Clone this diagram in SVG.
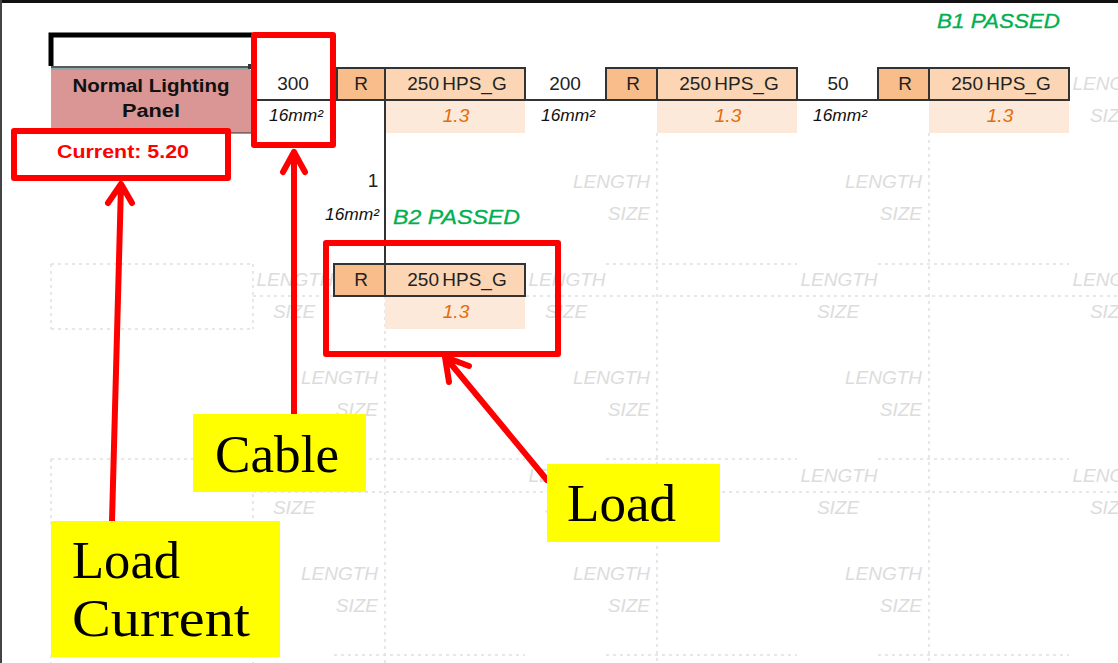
<svg xmlns="http://www.w3.org/2000/svg" width="1118" height="663" viewBox="0 0 1118 663">
<style>
text{font-family:"Liberation Sans",Arial,sans-serif}
.d{stroke:#e0e0e0;stroke-width:1.5;stroke-dasharray:3 4;fill:none}
.w{stroke:#333;stroke-width:2;fill:none}
.c{stroke:#333;stroke-width:2}
.r{fill:#f8bd8a}
.h{fill:#fcd5b4}
.p{fill:#fde9d9}
.t{font-size:19px;fill:#222;text-anchor:middle;word-spacing:-2px}
.s{font-size:16px;font-style:italic;fill:#111;text-anchor:middle}
.o{font-size:19px;font-style:italic;fill:#e36c0a;text-anchor:middle}
.g{font-size:20px;font-style:italic;fill:#00b050;stroke:#00b050;stroke-width:.3}
.l{font-size:19px;font-style:italic;fill:#dcdcdc;text-anchor:end}
.lc{font-size:19px;font-style:italic;fill:#dcdcdc;text-anchor:middle}
.m{font-size:18px;font-weight:bold;fill:#111;text-anchor:middle}
.y{fill:#ffff00}
.f{font-family:"Liberation Serif","Times New Roman",serif;font-size:52px;fill:#000}
.b{fill:none;stroke:#ff0000;stroke-width:6;stroke-linejoin:round}
.a{fill:none;stroke:#ff0000;stroke-width:6;stroke-linecap:round;stroke-linejoin:round}
</style>
<rect width="1118" height="663" fill="#fff"/>
<rect x="0" y="0" width="1118" height="3" fill="#111"/>
<rect x="0" y="0" width="2" height="663" fill="#444"/>

<g id="grid">
<path class="d" d="M51 264H253M334 264H525M606 264H797M878 264H1069M253 296H1118M51 329H253M51 459H253M334 459H525M606 459H797M878 459H1069M253 492H1118M51 524H253M51 655H253M334 655H525M606 655H797M878 655H1069"/>
<path class="d" d="M51 264V329M253 264V329M51 459V524M253 459V524M51 655V663M253 655V663M385 296V663M657 133V663M929 133V663"/>
<text class="l" x="650" y="188">LENGTH</text><text class="l" x="922" y="188">LENGTH</text>
<text class="l" x="650" y="220">SIZE</text><text class="l" x="922" y="220">SIZE</text>
<text class="lc" x="295" y="286">LENGTH</text><text class="lc" x="567" y="286">LENGTH</text><text class="lc" x="839" y="286">LENGTH</text><text class="lc" x="1111" y="286">LENGTH</text>
<text class="lc" x="294" y="318">SIZE</text><text class="lc" x="566" y="318">SIZE</text><text class="lc" x="838" y="318">SIZE</text><text class="lc" x="1111" y="318">SIZE</text>
<text class="l" x="378" y="384">LENGTH</text><text class="l" x="650" y="384">LENGTH</text><text class="l" x="922" y="384">LENGTH</text>
<text class="l" x="378" y="416">SIZE</text><text class="l" x="650" y="416">SIZE</text><text class="l" x="922" y="416">SIZE</text>
<text class="lc" x="295" y="482">LENGTH</text><text class="lc" x="567" y="482">LENGTH</text><text class="lc" x="839" y="482">LENGTH</text><text class="lc" x="1111" y="482">LENGTH</text>
<text class="lc" x="294" y="514">SIZE</text><text class="lc" x="566" y="514">SIZE</text><text class="lc" x="838" y="514">SIZE</text><text class="lc" x="1111" y="514">SIZE</text>
<text class="l" x="378" y="580">LENGTH</text><text class="l" x="650" y="580">LENGTH</text><text class="l" x="922" y="580">LENGTH</text>
<text class="l" x="378" y="612">SIZE</text><text class="l" x="650" y="612">SIZE</text><text class="l" x="922" y="612">SIZE</text>
<text class="lc" x="1111" y="90">LENGTH</text>
<text class="lc" x="1111" y="122">SIZE</text>
</g>

<g id="connectors">
<path class="w" d="M252 100H1070M385 100V264"/>
<path class="a" d="M112 521L121 185M108 203L121 184L132 203"/>
<path class="a" d="M294 414V152M283 172L294 152L305 172"/>
<path class="a" d="M547 480L446 358M449 382L445 357L469 366"/>
</g>

<g id="selected-cell">
<path d="M51 66V35H252" fill="none" stroke="#000" stroke-width="5"/>
<path d="M51 67H250" stroke="#222" stroke-width="1.5"/>
<path d="M51 69H250" stroke="#5f8f8f" stroke-width="1.5"/>
<rect x="248" y="64" width="5" height="5" fill="#333"/>
</g>

<g id="panel">
<rect x="51" y="70" width="201" height="63" fill="#d99694"/>
<path d="M51 133H252" stroke="#333" stroke-width="1"/>
<text class="m" x="151" y="92" textLength="157" lengthAdjust="spacingAndGlyphs">Normal Lighting</text>
<text class="m" x="151" y="117" textLength="58" lengthAdjust="spacingAndGlyphs">Panel</text>
</g>

<g id="current"><text class="m" x="123" y="158" style="fill:#ff0000" textLength="132" lengthAdjust="spacingAndGlyphs">Current: 5.20</text></g>

<g id="cable-1"><text class="t" x="293" y="90">300</text><text class="s" x="296" y="121" textLength="54" lengthAdjust="spacingAndGlyphs">16mm²</text></g>
<g id="cable-2"><text class="t" x="565" y="90">200</text><text class="s" x="568" y="121" textLength="54" lengthAdjust="spacingAndGlyphs">16mm²</text></g>
<g id="cable-3"><text class="t" x="838" y="90">50</text><text class="s" x="840" y="121" textLength="54" lengthAdjust="spacingAndGlyphs">16mm²</text></g>
<g id="cable-4"><text class="t" x="373" y="187">1</text><text class="s" x="352" y="220" textLength="54" lengthAdjust="spacingAndGlyphs">16mm²</text></g>

<g id="load-1">
<rect class="r c" x="337" y="68" width="48" height="32"/><rect class="h c" x="385" y="68" width="140" height="32"/>
<rect class="p" x="386" y="101" width="139" height="32"/>
<text class="t" x="361" y="90">R</text><text class="t" x="457" y="90">250 HPS_G</text><text class="o" x="456" y="122">1.3</text>
</g>
<g id="load-2">
<rect class="r c" x="606" y="68" width="51" height="32"/><rect class="h c" x="657" y="68" width="140" height="32"/>
<rect class="p" x="657" y="101" width="140" height="32"/>
<text class="t" x="633" y="90">R</text><text class="t" x="729" y="90">250 HPS_G</text><text class="o" x="728" y="122">1.3</text>
</g>
<g id="load-3">
<rect class="r c" x="878" y="68" width="51" height="32"/><rect class="h c" x="929" y="68" width="140" height="32"/>
<rect class="p" x="929" y="101" width="140" height="32"/>
<text class="t" x="905" y="90">R</text><text class="t" x="1001" y="90">250 HPS_G</text><text class="o" x="1000" y="122">1.3</text>
</g>
<g id="load-4">
<rect class="r c" x="334" y="264" width="51" height="32"/><rect class="h c" x="385" y="264" width="140" height="32"/>
<rect class="p" x="385" y="297" width="140" height="32"/>
<text class="t" x="361" y="286">R</text><text class="t" x="457" y="286">250 HPS_G</text><text class="o" x="456" y="318">1.3</text>
</g>

<g id="status-b1"><text class="g" x="937" y="28" textLength="123" lengthAdjust="spacingAndGlyphs">B1 PASSED</text></g>
<g id="status-b2"><text class="g" x="393" y="224" textLength="127" lengthAdjust="spacingAndGlyphs">B2 PASSED</text></g>

<g id="callout-current-box"><rect class="b" x="14" y="131" width="214" height="47"/></g>
<g id="callout-cable-box"><rect class="b" x="254" y="35" width="79" height="110"/></g>
<g id="callout-load-box"><rect class="b" x="326" y="243" width="232" height="111"/></g>

<g id="label-cable"><rect class="y" x="193" y="414" width="173" height="78"/><text class="f" x="215" y="472" textLength="124" lengthAdjust="spacingAndGlyphs">Cable</text></g>
<g id="label-load"><rect class="y" x="547" y="464" width="173" height="78"/><text class="f" x="567" y="521" textLength="109" lengthAdjust="spacingAndGlyphs">Load</text></g>
<g id="label-load-current"><rect class="y" x="51" y="521" width="229" height="136"/><text class="f" x="72" y="578" textLength="108" lengthAdjust="spacingAndGlyphs">Load</text><text class="f" x="72" y="636" textLength="178" lengthAdjust="spacingAndGlyphs">Current</text></g>
</svg>
